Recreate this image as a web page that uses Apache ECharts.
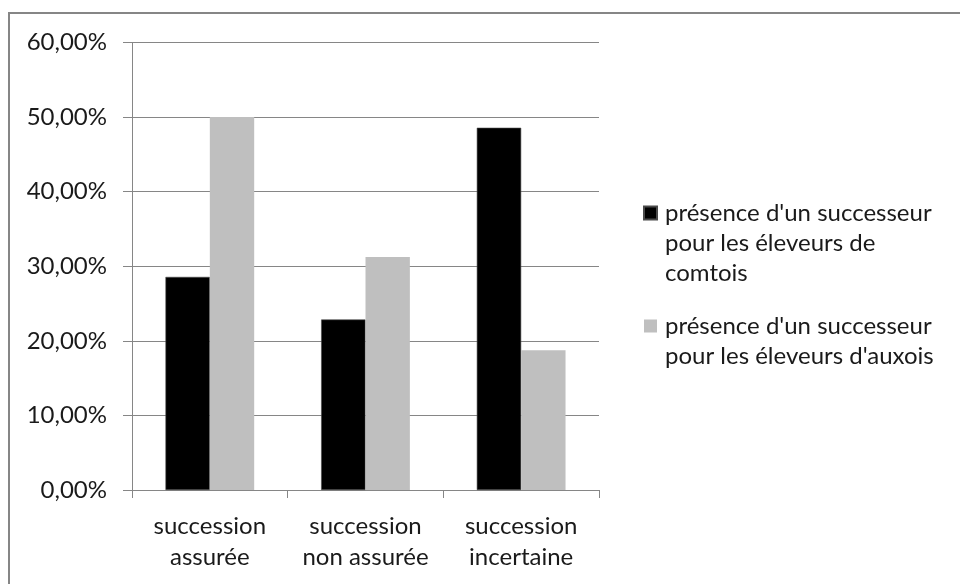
<!DOCTYPE html>
<html>
<head>
<meta charset="utf-8">
<script src="https://cdn.jsdelivr.net/npm/echarts@6/dist/echarts.min.js"></script>
<style>
  html, body { margin: 0; padding: 0; background: #fff; }
  #chart { width: 960px; height: 584px; }
</style>
</head>
<body>
<div id="chart"></div>
<script>
// Catégories de succession (axe horizontal)
var categories = ['succession\nassurée', 'succession\nnon assurée', 'succession\nincertaine'];

// Noms des séries (légende)
var seriesNames = [
  "présence d'un successeur\npour les éleveurs de\ncomtois",
  "présence d'un successeur\npour les éleveurs d'auxois"
];

// Parts en pourcentage
var comtoisValues = [28.57, 22.86, 48.57];
var auxoisValues = [50.00, 31.25, 18.75];

// Graduations de l'axe des valeurs
var yMin = 0, yMax = 60, yStep = 10;

var FONT = 'Lato';
var TEXT = '#1a1a1a';
var AXIS = '#868686';

function pct(v) {
  return v.toFixed(2).replace('.', ',') + '%';
}

// Le repère de la légende s'aligne sur la première ligne du libellé :
// on centre le bloc de texte sur cette ligne en ajoutant des lignes vides au-dessus.
function legendLabel(name) {
  var n = name.split('\n').length;
  return new Array(n).join('\n') + name;
}

var chart = echarts.init(document.getElementById('chart'), null, { renderer: 'canvas' });

chart.setOption({
  backgroundColor: '#ffffff',
  animation: false,
  textStyle: { fontFamily: FONT, color: TEXT },
  graphic: [{
    type: 'rect',
    shape: { x: 9, y: 13, width: 1000, height: 1000 },
    style: { fill: 'none', stroke: AXIS, lineWidth: 2 },
    silent: true
  }],
  grid: { left: 132, right: 361, top: 42.5, bottom: 94, containLabel: false },
  legend: {
    orient: 'vertical',
    left: 643,
    top: 138,
    padding: 0,
    itemGap: -7,
    itemWidth: 13,
    itemHeight: 13,
    icon: 'rect',
    selectedMode: false,
    formatter: legendLabel,
    textStyle: { fontFamily: FONT, fontSize: 24, lineHeight: 30, color: TEXT, padding: [0, 0, 0, 3] },
    data: seriesNames
  },
  xAxis: {
    type: 'category',
    data: categories,
    boundaryGap: true,
    axisLine: { show: true, lineStyle: { color: AXIS, width: 1 } },
    axisTick: { show: true, alignWithLabel: false, length: 8, lineStyle: { color: AXIS } },
    axisLabel: { fontFamily: FONT, fontSize: 24, lineHeight: 31, color: TEXT, margin: 21, interval: 0 },
    splitLine: { show: false }
  },
  yAxis: {
    type: 'value',
    min: yMin,
    max: yMax,
    interval: yStep,
    axisLine: { show: true, lineStyle: { color: AXIS, width: 1 } },
    axisTick: { show: true, length: 9, lineStyle: { color: AXIS } },
    axisLabel: { fontFamily: FONT, fontSize: 24, color: TEXT, margin: 25, formatter: pct },
    splitLine: { show: true, lineStyle: { color: AXIS, width: 1 } }
  },
  series: [
    {
      name: seriesNames[0],
      type: 'bar',
      data: comtoisValues,
      barGap: '0%',
      barCategoryGap: '43%',
      itemStyle: { color: '#000000', borderColor: '#4a4a4a', borderWidth: 0.6 }
    },
    {
      name: seriesNames[1],
      type: 'bar',
      data: auxoisValues,
      barGap: '0%',
      barCategoryGap: '43%',
      itemStyle: { color: '#bfbfbf' }
    }
  ]
});
</script>
</body>
</html>
